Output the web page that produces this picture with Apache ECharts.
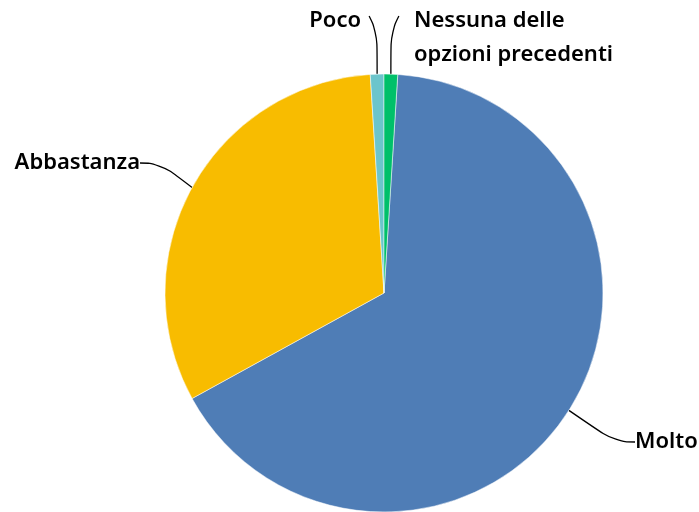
<!DOCTYPE html>
<html><head><meta charset="utf-8">
<script src="https://cdn.jsdelivr.net/npm/echarts@6/dist/echarts.min.js"></script>
<style>html,body{margin:0;padding:0;background:#fff}#c{width:699px;height:512px}</style>
</head><body><div id="c"></div>
<script>
const categories = ['Molto', 'Abbastanza', 'Poco', 'Nessuna delle\nopzioni precedenti'];
const values = [66, 32, 1, 1];
const colors = ['#4F7DB6', '#F8BC00', '#6CC5CC', '#00C06A'];
// label anchor placements (layout only)
const labelPos = [
  {x: 635, y: 442, align: 'left'},
  {x: 140, y: 163, align: 'right'},
  {x: 361, y: 21, align: 'right'},
  {x: 414, y: 38, align: 'left'}
];
const total = values.reduce((a, b) => a + b, 0);
const chart = echarts.init(document.getElementById('c'));
chart.setOption({
  animation: false,
  series: [{
    type: 'pie',
    center: [384, 293],
    radius: 219,
    startAngle: 90 - 360 * values[3] / total,
    clockwise: true,
    data: categories.map((c, i) => ({name: c, value: values[i], itemStyle: {color: colors[i]}})),
    itemStyle: {borderColor: '#fff', borderWidth: 0.5},
    label: {
      show: true,
      formatter: '{b}',
      fontFamily: 'Noto Sans',
      fontWeight: 600,
      fontSize: 22,
      lineHeight: 34,
      color: '#000'
    },
    labelLine: {show: true, smooth: 0.5, length: 20, length2: 20, lineStyle: {color: '#000', width: 1.3}},
    labelLayout: function (p) {
      const lp = labelPos[p.dataIndex];
      const res = {x: lp.x, y: lp.y, align: lp.align, verticalAlign: 'middle'};
      if ((p.dataIndex === 2 || p.dataIndex === 3) && p.labelLinePoints) {
        const p0 = p.labelLinePoints[0];
        const dir = p.dataIndex === 2 ? -1 : 1;
        res.labelLinePoints = [[p0[0], p0[1]], [p0[0], 32], [p0[0] + dir * 8, 16]];
      }
      return res;
    }
  }]
});
</script></body></html>
